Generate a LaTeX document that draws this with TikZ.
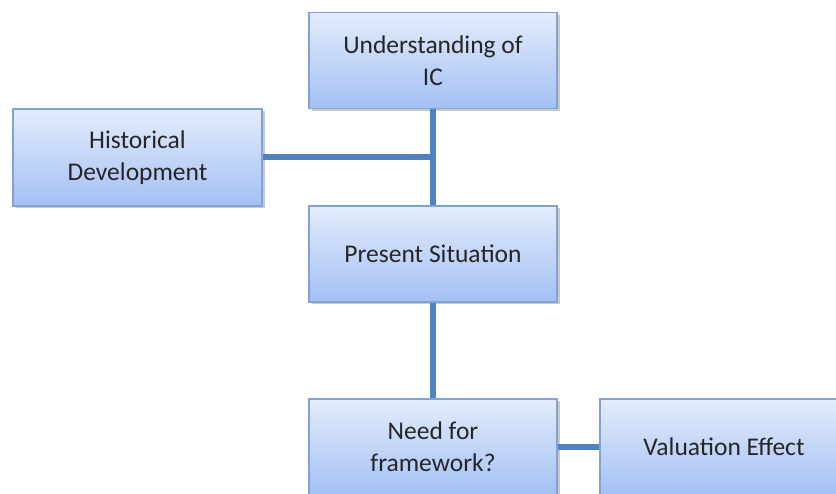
\documentclass[tikz,border=0pt]{standalone}
\usepackage{fontspec}
\setmainfont{Carlito}
\usetikzlibrary{shadows}
\definecolor{boxline}{HTML}{7FA3D3}
\definecolor{boxtop}{HTML}{E3ECFC}
\definecolor{boxbottom}{HTML}{A3C0F4}
\definecolor{linkblue}{HTML}{5082BE}
\tikzset{
  topic/.style={rectangle, draw=boxline, line width=1.2pt,
    top color=boxtop, bottom color=boxbottom,
    minimum width=248pt, minimum height=96pt, inner sep=0pt,
    align=center, text=black!85,
    font=\fontsize{25.5}{32}\selectfont,
    drop shadow={shadow xshift=2.5pt, shadow yshift=-2.5pt, opacity=0.35, fill=black!60}},
  link/.style={draw=linkblue, line width=6pt}
}
\begin{document}
\begin{tikzpicture}[x=1pt, y=-1pt]
  \useasboundingbox (0,0) rectangle (836,494);
  \clip (0,0) rectangle (836,494);
  \fill[white] (0,0) rectangle (836,494);
  % boxes
  \node[topic] (ic)   at (433,60.5)   {Understanding of\\IC};
  \node[topic, minimum width=249pt, minimum height=97pt] (hist) at (137.5,157.5) {Historical\\Development};
  \node[topic] (pres) at (433,254)    {Present Situation};
  \node[topic] (need) at (433,447)    {Need for\\framework?};
  \node[topic] (val)  at (724,447)    {Valuation Effect};
  % connectors
  \draw[link] (ic.south) -- (pres.north);
  \draw[link] (hist.east) -- (hist.east -| ic.south);
  \draw[link] (pres.south) -- (need.north);
  \draw[link] (need.east) -- (val.west);
\end{tikzpicture}
\end{document}
